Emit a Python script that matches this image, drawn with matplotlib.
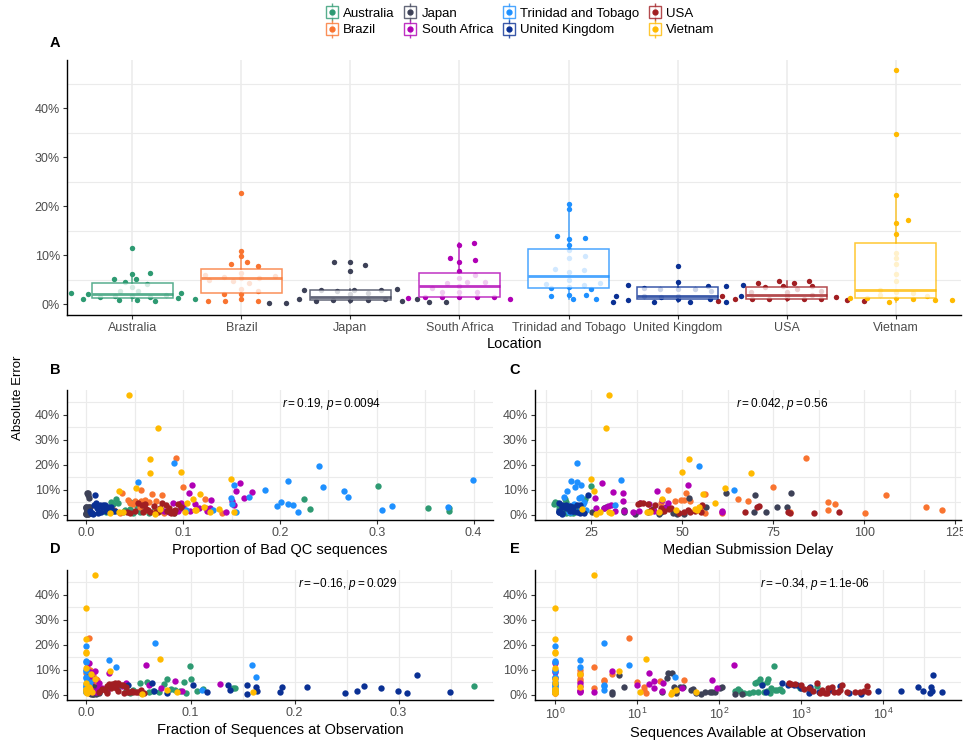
import numpy as np
import matplotlib.pyplot as plt
from matplotlib.lines import Line2D
from matplotlib.ticker import FuncFormatter, FixedLocator, NullFormatter

plt.rcParams['font.family'] = ['Liberation Sans', 'DejaVu Sans']
plt.rcParams['mathtext.fontset'] = 'custom'
plt.rcParams['mathtext.rm'] = 'Liberation Sans'
plt.rcParams['mathtext.it'] = 'Liberation Sans:italic'

countries = ['Australia', 'Brazil', 'Japan', 'South Africa', 'Trinidad and Tobago',
             'United Kingdom', 'USA', 'Vietnam']
colors = ['#2E9A72', '#F97430', '#3D4157', '#B000B5', '#1E90FF', '#0A3094', '#A11E22', '#FFBA00']

# absolute error (%) per observation, and the predictors for panels B-E
err_aus = [2.3, 1.0, 2.0, 1.4, 5.2, 0.8, 2.7, 4.5, 11.5, 6.1, 3.5, 1.6, 5.2, 0.8, 2.7, 4.2, 6.3, 1.5, 0.7, 1.8, 1.2, 2.2, 1.0, 1.6]
qc_aus = [0.045, 0.038, 0.060, 0.078, 0.025, 0.048, 0.353, 0.033, 0.301, 0.225, 0.052, 0.084, 0.045, 0.065, 0.375, 0.028, 0.031, 0.070, 0.090, 0.040, 0.055, 0.231, 0.020, 0.375]
delay_aus = [16.0, 19.0, 17.0, 22.0, 18.0, 20.0, 21.0, 15.5, 24.9, 17.7, 16.0, 23.0, 15.0, 18.0, 20.0, 14.8, 23.2, 17.0, 19.0, 21.0, 16.5, 22.0, 18.5, 20.0]
frac_aus = [0.081, 0.060, 0.045, 0.090, 0.094, 0.042, 0.141, 0.051, 0.0997, 0.100, 0.372, 0.106, 0.058, 0.052, 0.143, 0.075, 0.077, 0.064, 0.096, 0.085, 0.070, 0.112, 0.040, 0.038]
nseq_aus = [550, 262, 505, 180, 380, 200, 970, 275, 464, 316, 1550, 155, 290, 230, 430, 330, 400, 381, 420, 480, 350, 170, 300, 590]

err_bra = [22.7, 10.9, 9.9, 8.2, 8.6, 7.8, 6.0, 5.0, 5.5, 6.4, 5.4, 5.3, 5.7, 4.7, 4.3, 3.1, 2.0, 2.7, 2.0, 1.0, 0.7, 0.7, 0.7]
qc_bra = [0.093, 0.100, 0.056, 0.068, 0.037, 0.078, 0.043, 0.065, 0.056, 0.123, 0.050, 0.072, 0.061, 0.045, 0.048, 0.055, 0.029, 0.124, 0.062, 0.070, 0.140, 0.080, 0.035]
delay_bra = [83.9, 75.0, 46.1, 56.3, 51.1, 106.0, 50.5, 90.0, 68.0, 65.4, 48.0, 52.0, 49.5, 44.1, 92.0, 117.0, 121.4, 55.5, 90.0, 79.7, 100.2, 61.0, 56.2]
frac_bra = [0.002, 0.001, 0.003, 0.004, 0.000, 0.006, 0.010, 0.005, 0.003, 0.0096, 0.007, 0.002, 0.008, 0.004, 0.006, 0.001, 0.011, 0.003, 0.000, 0.005, 0.002, 0.007, 0.004]
nseq_bra = [8, 3, 2, 5, 2, 2, 4, 10, 19, 2, 2, 4, 37, 1, 1, 12, 12, 3, 2, 30, 13, 1, 1]

err_jpn = [0.34, 0.34, 1.0, 3.0, 0.7, 2.9, 8.7, 0.9, 2.7, 8.6, 6.8, 2.0, 0.9, 3.0, 7.9, 2.2, 0.9, 2.9, 1.0, 3.1, 0.6, 1.1, 0.4, 0.4]
qc_jpn = [0.000, 0.002, 0.001, 0.003, 0.000, 0.002, 0.001, 0.003, 0.000, 0.002, 0.003, 0.001, 0.004, 0.000, 0.002, 0.003, 0.001, 0.000, 0.002, 0.004, 0.001, 0.003, 0.000, 0.002]
delay_jpn = [50.4, 37.0, 40.5, 56.4, 47.5, 75.9, 80.0, 69.8, 28.5, 62.1, 51.9, 34.0, 73.0, 78.9, 70.0, 42.0, 34.0, 45.5, 44.0, 29.0, 36.9, 25.1, 43.5, 48.5]
frac_jpn = [0.004, 0.006, 0.008, 0.003, 0.010, 0.005, 0.002, 0.012, 0.007, 0.003, 0.004, 0.009, 0.011, 0.006, 0.002, 0.005, 0.008, 0.010, 0.003, 0.007, 0.012, 0.004, 0.009, 0.006]
nseq_jpn = [155, 190, 90, 7, 30, 33, 27, 78, 103, 24, 23, 45, 67, 110, 6, 48, 20, 36, 82, 28, 53, 5, 5, 60]

err_zaf = [1.2, 1.5, 3.3, 2.5, 1.5, 4.3, 9.4, 12.0, 8.6, 6.8, 5.4, 3.7, 2.5, 1.5, 4.5, 12.5, 9.0, 5.9, 2.5, 1.5, 4.6, 1.5, 1.0]
qc_zaf = [0.144, 0.107, 0.100, 0.098, 0.091, 0.112, 0.155, 0.109, 0.106, 0.163, 0.150, 0.153, 0.128, 0.125, 0.089, 0.159, 0.171, 0.129, 0.116, 0.095, 0.098, 0.080, 0.085]
delay_zaf = [61.0, 38.1, 29.5, 26.4, 42.1, 40.9, 43.0, 51.5, 33.8, 26.1, 33.8, 30.4, 45.0, 60.9, 46.1, 27.9, 30.9, 44.5, 28.5, 31.5, 38.5, 34.0, 36.5]
frac_zaf = [0.005, 0.092, 0.034, 0.072, 0.010, 0.128, 0.008, 0.057, 0.022, 0.005, 0.085, 0.060, 0.012, 0.004, 0.038, 0.002, 0.003, 0.006, 0.015, 0.020, 0.012, 0.007, 0.009]
nseq_zaf = [3, 2, 2, 16, 20, 14, 5, 152, 14, 1, 16, 10, 95, 2, 21, 1, 1, 81, 35, 1, 2, 1, 2]

err_tto = [20.5, 19.5, 13.9, 13.5, 13.2, 12.0, 11.0, 9.5, 9.9, 7.1, 6.5, 7.0, 5.0, 4.1, 3.3, 3.5, 3.9, 3.1, 4.3, 1.7, 1.9, 1.1, 1.8, 1.0]
qc_tto = [0.090, 0.240, 0.399, 0.208, 0.053, 0.153, 0.244, 0.266, 0.185, 0.168, 0.149, 0.270, 0.201, 0.208, 0.316, 0.197, 0.213, 0.374, 0.150, 0.305, 0.131, 0.219, 0.103, 0.155]
delay_tto = [21.0, 54.7, 33.1, 19.4, 21.0, 22.1, 20.4, 18.2, 64.3, 17.4, 21.5, 22.1, 23.0, 20.3, 19.0, 18.5, 31.5, 17.8, 22.8, 20.0, 21.8, 19.5, 23.5, 18.8]
frac_tto = [0.066, 0.000, 0.022, 0.000, 0.000, 0.159, 0.028, 0.000, 0.000, 0.163, 0.000, 0.000, 0.003, 0.000, 0.031, 0.000, 0.002, 0.000, 0.001, 0.111, 0.000, 0.000, 0.002, 0.000]
nseq_tto = [4, 1, 2, 1, 1, 8, 2, 1, 1, 29, 1, 1, 1, 1, 4, 1, 4, 1, 1, 4, 1, 1, 1, 1]

err_gbr = [0.5, 1.6, 3.9, 0.9, 3.4, 0.5, 3.1, 7.8, 4.5, 3.1, 1.0, 1.6, 0.4, 3.1, 3.7, 1.0, 2.7, 3.7, 0.5, 1.7, 3.9, 1.4, 1.6]
qc_gbr = [0.012, 0.020, 0.008, 0.015, 0.018, 0.005, 0.022, 0.009, 0.010, 0.025, 0.013, 0.030, 0.007, 0.016, 0.019, 0.024, 0.011, 0.014, 0.006, 0.021, 0.017, 0.027, 0.004]
delay_gbr = [17, 20, 18, 16, 19, 22, 17, 24.2, 16, 18, 21, 19, 17, 20, 22, 16, 18, 17, 23, 19, 21, 16, 20]
frac_gbr = [0.308, 0.299, 0.040, 0.349, 0.267, 0.077, 0.212, 0.318, 0.063, 0.1875, 0.186, 0.260, 0.154, 0.163, 0.102, 0.116, 0.283, 0.136, 0.248, 0.138, 0.154, 0.164, 0.065]
nseq_gbr = [37000, 31000, 330, 52000, 2970, 3800, 27000, 41000, 590, 1290, 1660, 16600, 5400, 38600, 810, 375, 1000, 900, 1250, 2350, 700, 8600, 39000]

err_usa = [0.7, 1.6, 1.0, 2.4, 1.1, 4.4, 3.5, 1.1, 4.8, 3.7, 2.5, 1.2, 1.7, 4.4, 3.1, 1.1, 4.8, 3.7, 1.9, 1.1, 2.7, 1.5, 0.8, 0.7]
qc_usa = [0.045, 0.050, 0.058, 0.062, 0.066, 0.061, 0.070, 0.074, 0.078, 0.082, 0.085, 0.088, 0.092, 0.095, 0.098, 0.042, 0.053, 0.057, 0.064, 0.072, 0.076, 0.083, 0.087, 0.091]
delay_usa = [86.2, 45.0, 67.3, 46.2, 79.0, 37.9, 71.2, 93.1, 39.2, 55.4, 44.0, 52.0, 41.5, 40.5, 70.5, 50.5, 38.5, 42.5, 51.5, 55.0, 47.0, 53.6, 79.5, 49.0]
frac_usa = [0.020, 0.030, 0.045, 0.015, 0.040, 0.025, 0.020, 0.050, 0.030, 0.035, 0.028, 0.042, 0.018, 0.022, 0.038, 0.048, 0.027, 0.033, 0.052, 0.012, 0.024, 0.044, 0.036, 0.055]
nseq_usa = [1960, 1400, 2500, 1100, 4550, 760, 6400, 5250, 1550, 3150, 2150, 2800, 3000, 850, 2360, 6600, 720, 1000, 1800, 3600, 1250, 5800, 2050, 1700]

err_vnm = [1.2, 1.2, 2.9, 1.8, 0.4, 47.7, 34.7, 22.3, 16.5, 14.4, 10.5, 9.4, 8.3, 6.1, 4.8, 2.4, 1.2, 17.2, 2.2, 1.1, 1.7, 0.9, 0.8]
qc_vnm = [0.152, 0.038, 0.121, 0.112, 0.071, 0.0436, 0.0735, 0.0656, 0.0653, 0.149, 0.051, 0.034, 0.117, 0.110, 0.104, 0.076, 0.128, 0.0973, 0.137, 0.034, 0.113, 0.102, 0.024]
delay_vnm = [40.2, 43.6, 54.6, 48.2, 26.4, 29.9, 28.9, 51.9, 68.9, 24.9, 61.6, 25.6, 55.7, 44.3, 58.9, 53.5, 29.9, 49.8, 22.3, 41.0, 54.0, 27.5, 30.5]
frac_vnm = [0.160, 0.000, 0.002, 0.077, 0.053, 0.0083, 0.000, 0.000, 0.000, 0.0705, 0.000, 0.023, 0.004, 0.0083, 0.000, 0.003, 0.001, 0.000, 0.000, 0.005, 0.000, 0.087, 0.001]
nseq_vnm = [53, 11, 2, 30, 26, 3, 1, 1, 1, 13, 1, 6, 2, 1, 1, 1, 1, 1, 1, 27, 1, 1, 1]

# horizontal jitter used in panel A (category units)
jit_aus = [-0.56, -0.45, -0.41, -0.30, -0.17, -0.12, -0.11, -0.07, 0, 0, 0, 0, 0.03, 0.04, 0.05, 0.13, 0.16, 0.16, 0.21, 0.31, 0.42, 0.45, 0.57, -0.16]
jit_bra = [0, 0, 0, -0.10, 0.05, 0.15, -0.33, -0.30, -0.16, 0, 0, 0.16, 0.31, -0.08, 0.07, 0, 0, 0.15, -0.16, 0, -0.31, -0.15, 0.15]
jit_jpn = [-0.75, -0.59, -0.47, -0.43, -0.32, -0.27, -0.15, -0.16, -0.12, 0, 0, 0, 0, 0.03, 0.13, 0.16, 0.16, 0.28, 0.32, 0.43, 0.47, 0.61, 0.72, 0.88]
jit_zaf = [-0.47, -0.32, -0.25, -0.16, -0.16, -0.11, -0.09, 0, 0, 0, 0, 0, 0, 0, 0.07, 0.13, 0.14, 0.14, 0.16, 0.16, 0.23, 0.32, 0.46]
jit_tto = [0, 0, -0.11, 0.15, 0, 0, 0, 0, 0.15, -0.12, 0, 0.14, 0, -0.21, -0.16, 0, 0.14, 0.21, 0.29, -0.16, 0, 0.04, 0.16, 0.25]
jit_gbr = [-0.59, -0.56, -0.45, -0.45, -0.31, -0.22, -0.16, 0, 0, 0, 0, 0, 0.11, 0.16, 0.28, 0.30, 0.31, 0.44, 0.44, 0.58, 0.60, -0.15, -0.31]
jit_usa = [-0.63, -0.59, -0.47, -0.33, -0.32, -0.26, -0.20, -0.16, -0.07, -0.03, 0, 0, 0, 0.07, 0.10, 0.16, 0.21, 0.23, 0.23, 0.32, 0.32, 0.45, 0.55, 0.71]
jit_vnm = [-0.42, -0.26, -0.14, -0.14, -0.06, 0, 0, 0, 0, 0, 0, 0, 0, 0, 0, 0, 0, 0.11, 0.16, 0.16, 0.29, 0.36, 0.52]

cor_labels = [r'$r = 0.19$, $p = 0.0094$', r'$r = 0.042$, $p = 0.56$',
              r'$r = -0.16$, $p = 0.029$', r'$r = -0.34$, $p = 1.1\mathrm{e}$-06']

errs = [err_aus, err_bra, err_jpn, err_zaf, err_tto, err_gbr, err_usa, err_vnm]
jits = [jit_aus, jit_bra, jit_jpn, jit_zaf, jit_tto, jit_gbr, jit_usa, jit_vnm]
qcs = [qc_aus, qc_bra, qc_jpn, qc_zaf, qc_tto, qc_gbr, qc_usa, qc_vnm]
delays = [delay_aus, delay_bra, delay_jpn, delay_zaf, delay_tto, delay_gbr, delay_usa, delay_vnm]
fracs = [frac_aus, frac_bra, frac_jpn, frac_zaf, frac_tto, frac_gbr, frac_usa, frac_vnm]
nseqs = [nseq_aus, nseq_bra, nseq_jpn, nseq_zaf, nseq_tto, nseq_gbr, nseq_usa, nseq_vnm]

W, H = 963, 740
fig = plt.figure(figsize=(W / 100, H / 100), dpi=100)


def px_axes(l, t, r, b):
    return fig.add_axes([l / W, 1 - b / H, (r - l) / W, (b - t) / H])


GRID = '#EBEBEB'
TXT = '#4D4D4D'
pct = FuncFormatter(lambda v, _: f'{v:.0f}%')


def style(ax):
    for s in ['top', 'right']:
        ax.spines[s].set_visible(False)
    for s in ['left', 'bottom']:
        ax.spines[s].set_linewidth(1.0)
    ax.tick_params(which='major', length=3, width=0.8, color='#333333',
                   labelcolor=TXT, labelsize=9, pad=2)
    ax.tick_params(which='minor', length=0)
    ax.set_ylim(-2.2, 49.8)
    ax.set_yticks([0, 10, 20, 30, 40])
    ax.set_yticks([5, 15, 25, 35, 45], minor=True)
    ax.yaxis.set_major_formatter(pct)
    ax.grid(axis='y', which='minor', color=GRID, lw=0.8)
    ax.set_axisbelow(True)


# ---- panel A
axA = px_axes(67, 60, 961, 315)
style(axA)
for i in range(len(countries)):
    xs = i + np.array(jits[i])
    axA.scatter(xs, errs[i], s=15, color=colors[i], lw=0, zorder=2)
bp = axA.boxplot(errs, positions=range(len(countries)), widths=0.75, showfliers=False,
                 patch_artist=True, showcaps=False, manage_ticks=False, zorder=3)
for i, c in enumerate(colors):
    bp['boxes'][i].set(facecolor=(1, 1, 1, 0.35), edgecolor=c, alpha=None, lw=1.1)
    bp['boxes'][i].set_edgecolor(c)
    bp['medians'][i].set(color=c, lw=2)
    for w in bp['whiskers'][2 * i:2 * i + 2]:
        w.set(color=c, lw=1.1)
for art in bp['boxes'] + bp['medians'] + bp['whiskers']:
    art.set_alpha(0.8)
axA.set_xlim(-0.6, 7.6)
axA.set_xticks(range(len(countries)))
axA.set_xticklabels(countries)
axA.grid(axis='x', which='major', color=GRID, lw=1.1)
axA.set_xlabel('Location', fontsize=10.5, labelpad=2)

# ---- panels B-E
panels = [
    ((67, 390, 493, 520), qcs, 'Proportion of Bad QC sequences', (-0.02, 0.42)),
    ((535, 390, 961, 520), delays, 'Median Submission Delay', (9.5, 126.6)),
    ((67, 570, 493, 700), fracs, 'Fraction of Sequences at Observation', (-0.0187, 0.3907)),
    ((535, 570, 961, 700), nseqs, 'Sequences Available at Observation', (10 ** -0.244, 10 ** 4.95)),
]
label_x = [0.622, 0.581, 0.658, 0.657]
axes = []
for k, (box, xs_all, xlabel, xlim) in enumerate(panels):
    ax = px_axes(*box)
    style(ax)
    for i in range(len(countries)):
        ax.scatter(xs_all[i], errs[i], s=21, color=colors[i], lw=0, zorder=2)
    if k == 3:
        ax.set_xscale('log')
        ax.set_xticks([1, 10, 100, 1000, 10000])
        ax.set_xticklabels([r'$10^{0}$', r'$10^{1}$', r'$10^{2}$', r'$10^{3}$', r'$10^{4}$'])
        ax.xaxis.set_minor_locator(FixedLocator([10 ** (j + 0.5) for j in range(-1, 5)]))
        ax.xaxis.set_minor_formatter(NullFormatter())
    elif k == 0:
        ax.set_xticks([0.0, 0.1, 0.2, 0.3, 0.4])
        ax.set_xticklabels(['0.0', '0.1', '0.2', '0.3', '0.4'])
        ax.set_xticks(np.arange(0.05, 0.42, 0.1), minor=True)
    elif k == 1:
        ax.set_xticks([25, 50, 75, 100, 125])
        ax.set_xticks([12.5, 37.5, 62.5, 87.5, 112.5], minor=True)
    else:
        ax.set_xticks([0.0, 0.1, 0.2, 0.3])
        ax.set_xticklabels(['0.0', '0.1', '0.2', '0.3'])
        ax.set_xticks([0.05, 0.15, 0.25, 0.35], minor=True)
    ax.set_xlim(*xlim)
    ax.grid(axis='x', which='both', color=GRID, lw=0.9)
    ax.set_xlabel(xlabel, fontsize=10.5, labelpad=3)
    ax.text(label_x[k], 0.89, cor_labels[k], transform=ax.transAxes, ha='center',
            va='center', fontsize=8.5, color='black')
    axes.append(ax)

# panel letters and shared y label
for lab, (x, y) in zip('ABCDE', [(55, 43), (55, 370), (515, 370), (55, 549), (515, 549)]):
    fig.text(x / W, 1 - y / H, lab, fontsize=10.5, fontweight='bold', ha='center', va='center')
fig.text(18 / W, 1 - 398 / H, 'Absolute Error', rotation=90, fontsize=9.5, ha='center', va='center')

# legend
handles = []
for c in colors:
    handles.append((Line2D([], [], marker='|', ms=13, mew=1.0, color=c, ls='', alpha=0.8),
                    Line2D([], [], marker='s', ms=9, mfc='white', mec=c, mew=1.0, ls='', alpha=0.8),
                    Line2D([], [], marker='o', ms=3.5, color=c, ls='')))
fig.legend(handles, countries, ncol=4, loc='upper center', bbox_to_anchor=(520 / W, 1 - 2 / H),
           frameon=False, fontsize=9.5, handlelength=1.0, handletextpad=0.35,
           columnspacing=0.7, labelspacing=0.35, borderaxespad=0)

fig.savefig('out.png', dpi=100)
